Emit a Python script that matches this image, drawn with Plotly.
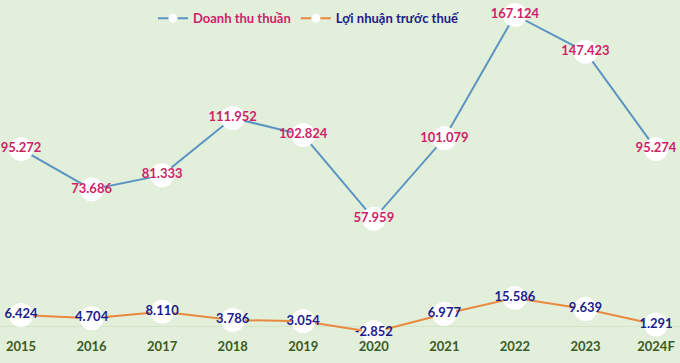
import plotly.graph_objects as go

years = ["2015", "2016", "2017", "2018", "2019", "2020", "2021", "2022", "2023", "2024F"]
revenue = [95.272, 73.686, 81.333, 111.952, 102.824, 57.959, 101.079, 167.124, 147.423, 95.274]
profit = [6.424, 4.704, 8.110, 3.786, 3.054, -2.852, 6.977, 15.586, 9.639, 1.291]
rev_name = "Doanh thu thuần"
prof_name = "Lợi nhuận trước thuế"

BG = "#e2efda"
BLUE = "#5b93c2"
ORANGE = "#e8893f"
MAGENTA = "#cf1f68"
NAVY = "#1c1c8e"
GREEN = "#3a5a24"
FONT = "Lato"

fig = go.Figure()

fig.add_trace(go.Scatter(
    x=years, y=revenue, mode="lines+markers+text",
    line=dict(color=BLUE, width=2),
    marker=dict(color="white", size=24, line=dict(width=0)),
    text=[f"{v:.3f}" for v in revenue], textposition="middle center",
    textfont=dict(family=FONT, size=13, color=MAGENTA, weight="bold"),
    cliponaxis=False, showlegend=False, hoverinfo="skip",
))
fig.add_trace(go.Scatter(
    x=years, y=profit, mode="lines+markers+text",
    line=dict(color=ORANGE, width=2),
    marker=dict(color="white", size=24, line=dict(width=0)),
    text=[f"{v:.3f}" for v in profit], textposition="middle center",
    textfont=dict(family=FONT, size=13, color=NAVY, weight="bold"),
    cliponaxis=False, showlegend=False, hoverinfo="skip",
))
# legend entries
fig.add_trace(go.Scatter(
    x=[None], y=[None], mode="lines+markers", name=f"<span style='color:{MAGENTA}'><b>{rev_name}</b></span>",
    line=dict(color=BLUE, width=2), marker=dict(color="white", size=9),
))
fig.add_trace(go.Scatter(
    x=[None], y=[None], mode="lines+markers", name=f"<span style='color:{NAVY}'><b>{prof_name}</b></span>",
    line=dict(color=ORANGE, width=2), marker=dict(color="white", size=9),
))

fig.update_layout(
    width=680, height=363,
    margin=dict(l=0, r=0, t=0, b=26),
    paper_bgcolor=BG, plot_bgcolor=BG,
    font=dict(family=FONT),
    showlegend=True,
    legend=dict(orientation="h", x=0.225, xanchor="left", y=0.99, yanchor="top",
                font=dict(family=FONT, size=13), bgcolor="rgba(0,0,0,0)",
                itemwidth=30),
    xaxis=dict(type="category", range=[-0.298, 9.34], showgrid=False, showline=False,
               ticks="", tickfont=dict(family=FONT, size=13, color=GREEN, weight="bold")),
    yaxis=dict(range=[-5.36, 175.15], showgrid=False, showticklabels=False,
               zeroline=True, zerolinecolor="#d3e5c6", zerolinewidth=1),
)

fig.write_html("out.html", config={"displayModeBar": False},
               post_script="document.body.style.margin='0';document.body.style.background='" + BG + "';")
